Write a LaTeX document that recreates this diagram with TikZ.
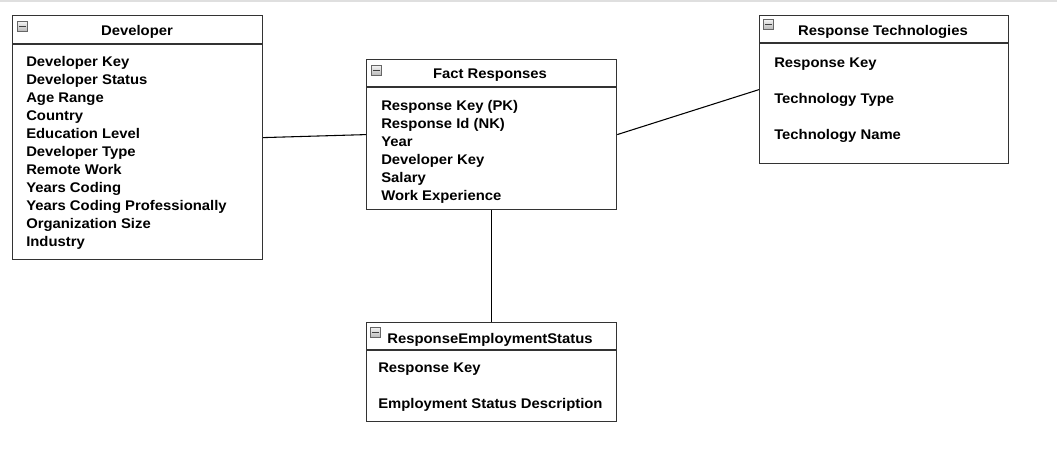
\documentclass[tikz,border=0pt]{standalone}
\usepackage{fontspec}
\setmainfont{Liberation Sans}[FakeStretch=1.06]
\usetikzlibrary{positioning,calc}

\begin{document}
\begin{tikzpicture}[x=0.75pt, y=-0.75pt,
  tbl/.style={rectangle, draw=black!80, line width=0.9pt, fill=white, inner sep=0pt, anchor=north west},
  ttl/.style={font=\fontsize{10.5}{12}\selectfont\bfseries, inner sep=0pt, anchor=base},
  fld/.style={font=\fontsize{10.5}{12}\selectfont\bfseries, inner sep=0pt, anchor=base west},
  minusicon/.style={rectangle, draw=gray!80!black, line width=0.4pt, top color=gray!8, bottom color=gray!55, minimum size=7.5pt, inner sep=0pt, anchor=north west,
    path picture={\draw[black!75, line width=1.1pt] (path picture bounding box.center) +(-3.5,0) -- +(3.5,0);}},
  hdrline/.style={draw=black!80, line width=0.8pt},
  conn/.style={draw=black, line width=0.8pt}
]
\useasboundingbox (0,0) rectangle (1057,457);
\draw[gray!25, line width=1.5pt] (0,1) -- (1057,1);

% tables
\node[tbl, minimum width=250*0.75pt, minimum height=244*0.75pt] (dev) at (12,15) {};
\node[tbl, minimum width=250*0.75pt, minimum height=150*0.75pt] (fact) at (366,59) {};
\node[tbl, minimum width=249*0.75pt, minimum height=148*0.75pt] (tech) at (759,15) {};
\node[tbl, minimum width=250*0.75pt, minimum height=99*0.75pt] (emp) at (366,322) {};

\draw[hdrline] ($(dev.north west)+(0,29)$) -- ($(dev.north east)+(0,29)$);
\draw[hdrline] ($(fact.north west)+(0,28)$) -- ($(fact.north east)+(0,28)$);
\draw[hdrline] ($(tech.north west)+(0,28)$) -- ($(tech.north east)+(0,28)$);
\draw[hdrline] ($(emp.north west)+(0,28)$) -- ($(emp.north east)+(0,28)$);

\node[minusicon] (devI) at (17,21) {};
\node[minusicon] (factI) at (371,65) {};
\node[minusicon] (techI) at (763,19) {};
\node[minusicon] (empI) at (370,327) {};

\node[ttl] (devT) at (137,35) {Developer};
\node[ttl] (factT) at (490,78) {Fact Responses};
\node[ttl] (techT) at (883,35) {Response Technologies};
\node[ttl] (empT) at (490,343) {ResponseEmploymentStatus};

% fields
\foreach \t [count=\i from 0] in {Developer Key, Developer Status, Age Range, Country,
    Education Level, Developer Type, Remote Work, Years Coding,
    Years Coding Professionally, Organization Size, Industry}
  \node[fld] (dev-f\i) at (26,{66+18*\i}) {\t};
\foreach \t [count=\i from 0] in {Response Key (PK), Response Id (NK), Year,
    Developer Key, Salary, Work Experience}
  \node[fld] (fact-f\i) at (381,{110+18*\i}) {\t};
\foreach \t [count=\i from 0] in {Response Key, Technology Type, Technology Name}
  \node[fld] (tech-f\i) at (774,{67+36*\i}) {\t};
\foreach \t [count=\i from 0] in {Response Key, Employment Status Description}
  \node[fld] (emp-f\i) at (378,{372+36*\i}) {\t};

% links
\draw[conn] (dev.east) -- (fact.west);
\draw[conn] (fact.east) -- (tech.west);
\draw[conn] (fact.south) -- (emp.north);
\end{tikzpicture}
\end{document}
